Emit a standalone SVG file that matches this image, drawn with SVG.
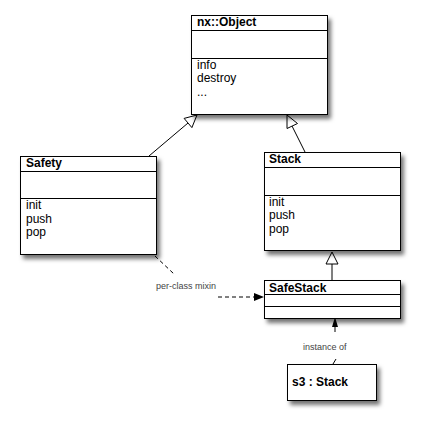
<svg xmlns="http://www.w3.org/2000/svg" width="421" height="424" viewBox="0 0 421 424">
<style>
.box{fill:#fff;stroke:#000;stroke-width:1}
.sep{stroke:#000;stroke-width:1}
.hdr{font-family:"Liberation Sans",Arial,sans-serif;font-size:12px;font-weight:bold;fill:#000}
.op{font-family:"Liberation Sans",Arial,sans-serif;font-size:12px;fill:#000}
.lbl{font-family:"Liberation Sans",Arial,sans-serif;font-size:9px;fill:#444}
.edge{stroke:#000;stroke-width:1;fill:none}
.dash{stroke:#000;stroke-width:1;fill:none;stroke-dasharray:4,3}
.gen{fill:#fff;stroke:#000;stroke-width:1}
</style>
<defs>
<filter id="sh" x="-10%" y="-10%" width="130%" height="140%">
<feDropShadow dx="3" dy="4" stdDeviation="2" flood-color="#000" flood-opacity="0.55"/>
</filter>
</defs>
<rect width="421" height="424" fill="#fff"/>
<g id="connectors">
<line class="edge" x1="149" y1="156" x2="188" y2="123"/>
<polygon class="gen" points="197,115 191.9,127.6 184.1,118.4"/>
<line class="edge" x1="305" y1="152" x2="292" y2="126"/>
<polygon class="gen" points="287,115 297.5,123.5 287,128.5"/>
<line class="edge" x1="332" y1="280" x2="332" y2="264"/>
<polygon class="gen" points="332,252 326,264 338,264"/>
<line class="dash" x1="155" y1="256" x2="174" y2="274" stroke="#555"/>
<line class="dash" x1="218" y1="297" x2="255" y2="297"/>
<polygon points="264,297 254,293 254,301" fill="#000"/>
<text class="lbl" x="156" y="289">per-class mixin</text>
<line class="edge" x1="335" y1="326" x2="335" y2="332"/>
<polygon points="335,317 332,327 338,327" fill="#000"/>
<text class="lbl" x="303" y="350">instance of</text>
<line class="edge" x1="333" y1="364" x2="336" y2="359"/>
</g>
<g id="nx-object">
<rect class="box" x="191.5" y="15.5" width="136" height="99" filter="url(#sh)"/>
<line class="sep" x1="191.5" y1="30.5" x2="327.5" y2="30.5"/>
<line class="sep" x1="191.5" y1="58.5" x2="327.5" y2="58.5"/>
<text class="hdr" x="197" y="26">nx::Object</text>
<text class="op" x="197" y="68.5">info</text>
<text class="op" x="197" y="82">destroy</text>
<text class="op" x="197" y="95.5">...</text>
</g>
<g id="safety">
<rect class="box" x="20.5" y="156.5" width="136" height="98" filter="url(#sh)"/>
<line class="sep" x1="20.5" y1="171.5" x2="156.5" y2="171.5"/>
<line class="sep" x1="20.5" y1="198.5" x2="156.5" y2="198.5"/>
<text class="hdr" x="26" y="167">Safety</text>
<text class="op" x="26" y="209">init</text>
<text class="op" x="26" y="222.5">push</text>
<text class="op" x="26" y="236">pop</text>
</g>
<g id="stack">
<rect class="box" x="264.5" y="152.5" width="136" height="98" filter="url(#sh)"/>
<line class="sep" x1="264.5" y1="167.5" x2="400.5" y2="167.5"/>
<line class="sep" x1="264.5" y1="195.5" x2="400.5" y2="195.5"/>
<text class="hdr" x="269" y="163">Stack</text>
<text class="op" x="269" y="205.5">init</text>
<text class="op" x="269" y="219">push</text>
<text class="op" x="269" y="232.5">pop</text>
</g>
<g id="safestack">
<rect class="box" x="264.5" y="280.5" width="136" height="38" filter="url(#sh)"/>
<line class="sep" x1="264.5" y1="294.5" x2="400.5" y2="294.5"/>
<line class="sep" x1="264.5" y1="306.5" x2="400.5" y2="306.5"/>
<text class="hdr" x="269" y="291.5">SafeStack</text>
</g>
<g id="s3">
<rect class="box" x="287.5" y="364.5" width="89" height="36" filter="url(#sh)"/>
<text class="hdr" x="292" y="386">s3 : Stack</text>
</g>
</svg>
